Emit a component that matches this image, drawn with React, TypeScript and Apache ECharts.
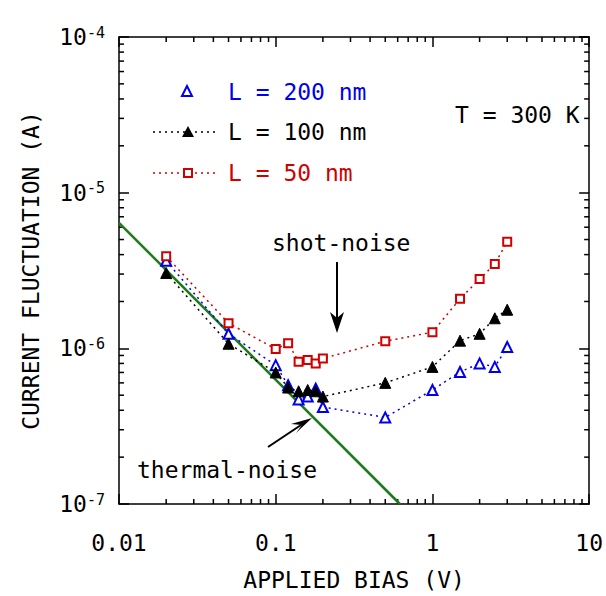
import React, { useEffect, useRef } from "react";
import * as echarts from "echarts";

const biasV = [0.02, 0.05, 0.1, 0.12, 0.14, 0.16, 0.18, 0.2, 0.5, 1, 1.5, 2, 2.5, 3];
const l200 = [3.65e-6, 1.24e-6, 7.8e-7, 5.8e-7, 4.7e-7, 4.9e-7, 5.5e-7, 4.2e-7, 3.6e-7, 5.4e-7, 7.05e-7, 8.0e-7, 7.6e-7, 1.02e-6];
const l100 = [3.05e-6, 1.07e-6, 7.0e-7, 5.6e-7, 5.3e-7, 5.4e-7, 5.3e-7, 4.9e-7, 6.0e-7, 7.6e-7, 1.12e-6, 1.24e-6, 1.56e-6, 1.77e-6];
const l50 = [3.9e-6, 1.45e-6, 9.9e-7, 1.08e-6, 8.2e-7, 8.4e-7, 8.0e-7, 8.6e-7, 1.11e-6, 1.27e-6, 2.08e-6, 2.79e-6, 3.48e-6, 4.83e-6];
const thermalX = [0.01, 0.62];
const thermalY = [6.4e-6, 1.0e-7];
const xTickLabels = ["0.01", "0.1", "1", "10"];
const yTickExps = ["-7", "-6", "-5", "-4"];
const seriesNames = ["L = 200 nm", "L = 100 nm", "L = 50 nm"];

const X_MIN = 0.01, X_MAX = 10, Y_MIN = 1e-7, Y_MAX = 1e-4;
const FONT = "DejaVu Sans Mono";
const FS = 23;
const BLUE = "#0000ee", RED = "#d00000", GREEN = "#1c7a1c";

function minorValues(min: number, max: number) {
  const out: number[] = [];
  for (let d = min; d < max * 0.999; d *= 10) {
    for (let k = 2; k <= 9; k++) out.push(d * k);
  }
  return out;
}

export default function App() {
  const ref = useRef<HTMLDivElement>(null);
  useEffect(() => {
    if (!ref.current) return;
    const chart = echarts.init(ref.current, null, { renderer: "svg" });
    const pairs = (ys: number[]) => biasV.map((x, i) => [x, ys[i]]);
    const minorData: number[][] = [
      ...minorValues(X_MIN, X_MAX).map((v) => [v, Y_MIN, 0]),
      ...minorValues(Y_MIN, Y_MAX).map((v) => [X_MIN, v, 1]),
    ];
    const axisCommon = {
      axisLine: { show: true, lineStyle: { color: "#000", width: 1.5 } },
      axisTick: { show: true, inside: true, length: 10, lineStyle: { color: "#000", width: 1.5 } },
      splitLine: { show: false },
      minorTick: { show: false },
    };
    const dash = [2, 4];
    const font = `${FS}px ${FONT}`;
    chart.setOption({
      animation: false,
      backgroundColor: "#fff",
      grid: { left: 119, right: 16, top: 37, bottom: 90 },
      xAxis: [
        {
          type: "log", logBase: 10, min: X_MIN, max: X_MAX, position: "bottom",
          ...axisCommon,
          name: "APPLIED BIAS (V)", nameLocation: "middle", nameGap: 64,
          nameTextStyle: { fontFamily: FONT, fontSize: FS, color: "#000" },
          axisLabel: {
            margin: 27, fontFamily: FONT, fontSize: FS, color: "#000",
            formatter: (v: number) => xTickLabels[Math.round(Math.log10(v) + 2)] ?? "",
          },
        },
        {
          type: "log", logBase: 10, min: X_MIN, max: X_MAX, position: "top",
          ...axisCommon, axisLabel: { show: false },
        },
      ],
      yAxis: [
        {
          type: "log", logBase: 10, min: Y_MIN, max: Y_MAX, position: "left",
          ...axisCommon,
          name: "CURRENT FLUCTUATION (A)", nameLocation: "middle", nameGap: 77,
          nameTextStyle: { fontFamily: FONT, fontSize: FS, color: "#000" },
          axisLabel: {
            margin: 14, fontFamily: FONT, color: "#000",
            formatter: (v: number) => `{b|10}{s|${yTickExps[Math.round(Math.log10(v) + 7)] ?? ""}}`,
            rich: {
              b: { fontFamily: FONT, fontSize: FS, color: "#000", lineHeight: 24 },
              s: { fontFamily: FONT, fontSize: 15, color: "#000", verticalAlign: "top", lineHeight: 14 },
            },
          },
        },
        {
          type: "log", logBase: 10, min: Y_MIN, max: Y_MAX, position: "right",
          ...axisCommon, axisLabel: { show: false },
        },
      ],
      series: [
        {
          type: "custom", silent: true, data: minorData, z: 1,
          encode: { x: 0, y: 1 },
          renderItem: (params: any, api: any) => {
            const cs = params.coordSys;
            const kind = api.value(2);
            const st = { stroke: "#000", lineWidth: 1.5 };
            if (kind === 0) {
              const px = api.coord([api.value(0), Y_MIN])[0];
              return {
                type: "group",
                children: [
                  { type: "line", shape: { x1: px, y1: cs.y + cs.height, x2: px, y2: cs.y + cs.height - 5 }, style: st },
                  { type: "line", shape: { x1: px, y1: cs.y, x2: px, y2: cs.y + 5 }, style: st },
                ],
              };
            }
            const py = api.coord([X_MIN, api.value(1)])[1];
            return {
              type: "group",
              children: [
                { type: "line", shape: { x1: cs.x, y1: py, x2: cs.x + 5, y2: py }, style: st },
                { type: "line", shape: { x1: cs.x + cs.width, y1: py, x2: cs.x + cs.width - 5, y2: py }, style: st },
              ],
            };
          },
        },
        {
          name: "thermal", type: "line", data: thermalX.map((x, i) => [x, thermalY[i]]),
          showSymbol: false, symbol: "none", lineStyle: { color: GREEN, width: 2.5 }, z: 2,
        },
        {
          name: seriesNames[0], type: "line", data: pairs(l200), symbol: "triangle", symbolSize: 10,
          lineStyle: { color: BLUE, width: 1.5, type: dash },
          itemStyle: { color: "#fff", borderColor: BLUE, borderWidth: 2 }, z: 3,
        },
        {
          name: seriesNames[1], type: "line", data: pairs(l100), symbol: "triangle", symbolSize: 11,
          lineStyle: { color: "#000", width: 1.5, type: dash },
          itemStyle: { color: "#000", borderColor: "#000", borderWidth: 1 }, z: 4,
        },
        {
          name: seriesNames[2], type: "line", data: pairs(l50), symbol: "rect", symbolSize: 8,
          lineStyle: { color: RED, width: 1.5, type: dash },
          itemStyle: { color: "#fff", borderColor: RED, borderWidth: 2 }, z: 5,
        },
      ],
      graphic: [
        // legend
        { type: "polygon", shape: { points: [[187, 86], [182, 96], [192, 96]] }, style: { fill: "#fff", stroke: BLUE, lineWidth: 2 } },
        { type: "text", x: 228, y: 92, style: { text: seriesNames[0], fill: BLUE, font, verticalAlign: "middle" } },
        { type: "line", shape: { x1: 153, y1: 132, x2: 218, y2: 132 }, style: { stroke: "#000", lineWidth: 1.5, lineDash: dash } },
        { type: "polygon", shape: { points: [[188, 126], [182, 137], [194, 137]] }, style: { fill: "#000" } },
        { type: "text", x: 228, y: 132, style: { text: seriesNames[1], fill: "#000", font, verticalAlign: "middle" } },
        { type: "line", shape: { x1: 153, y1: 173, x2: 218, y2: 173 }, style: { stroke: RED, lineWidth: 1.5, lineDash: dash } },
        { type: "rect", shape: { x: 184, y: 169, width: 8, height: 8 }, style: { fill: "#fff", stroke: RED, lineWidth: 2 } },
        { type: "text", x: 228, y: 173, style: { text: seriesNames[2], fill: RED, font, verticalAlign: "middle" } },
        { type: "text", x: 455, y: 115, style: { text: "T = 300 K", fill: "#000", font, verticalAlign: "middle" } },
        // shot-noise annotation
        { type: "text", x: 272, y: 243, style: { text: "shot-noise", fill: "#000", font, verticalAlign: "middle" } },
        { type: "line", shape: { x1: 337, y1: 262, x2: 337, y2: 322 }, style: { stroke: "#000", lineWidth: 2 } },
        { type: "polygon", shape: { points: [[337, 333], [330, 312], [337, 318], [344, 312]] }, style: { fill: "#000" } },
        // thermal-noise annotation
        { type: "text", x: 137, y: 470, style: { text: "thermal-noise", fill: "#000", font, verticalAlign: "middle" } },
        { type: "line", shape: { x1: 268, y1: 447, x2: 304, y2: 423 }, style: { stroke: "#000", lineWidth: 2 } },
        { type: "polygon", shape: { points: [[312, 418], [296, 433], [302, 425], [291, 424]] }, style: { fill: "#000" } },
      ],
    });
    return () => chart.dispose();
  }, []);
  return <div ref={ref} style={{ position: "fixed", left: 0, top: 0, width: 606, height: 596 }} />;
}
